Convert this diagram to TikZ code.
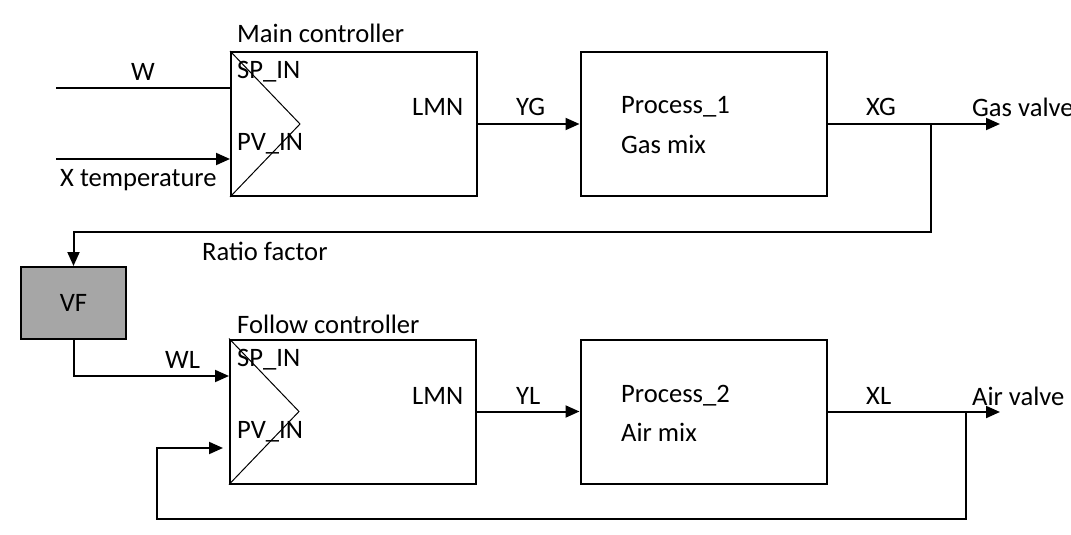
\documentclass[tikz,border=0pt]{standalone}
\usepackage{fontspec}
\setmainfont{Carlito}
\usetikzlibrary{arrows.meta}

\begin{document}
\begin{tikzpicture}[
      x=1pt, y=-1pt,
      block/.style={draw, line width=2pt, rectangle, minimum width=246pt, minimum height=144pt, inner sep=0pt}, % Cuadros de controlador y proceso
      factor/.style={draw, line width=2pt, rectangle, fill=gray!70, minimum width=105pt, minimum height=72pt, font=\fontsize{26.6}{30}\selectfont},
      label/.style={anchor=west, inner sep=0pt, font=\fontsize{26.6}{30}\selectfont},
      wire/.style={line width=2pt},
      arr/.style={line width=2pt, -{Triangle[length=14pt, width=12pt]}}
    ]
    \useasboundingbox (0,0) rectangle (1071,535);
    % Main loop
    \node [block] (mainctrl) at (354,124) {};
    \node [block] (proc1) at (703.5,124) {};
    \node [label] at (237,33) {Main controller};
    \node [label] at (237,72) {SP\_IN};
    \node [label] at (237,144) {PV\_IN};
    \node [label] at (412,107) {LMN};
    \node [label] at (621,107) {Process\_1};
    \node [label] at (621,144) {Gas mix};
    \draw [line width=1pt] (mainctrl.north west) -- ([xshift=70pt]mainctrl.west) -- (mainctrl.south west);
    % Inputs of main controller
    \coordinate (win) at (56,88);
    \coordinate (xin) at (56,159);
    \draw [wire] (win) -- (win -| mainctrl.west);
    \node [label] at (131,72) {W};
    \draw [arr] (xin) -- (xin -| mainctrl.west);
    \node [label] at (60,180) {X temperature};
    \draw [arr] (mainctrl.east) -- (proc1.west);
    \node [label] at (516,107) {YG};
    \coordinate (gasout) at (1000,124);
    \draw [arr] (proc1.east) -- (gasout);
    \node [label] at (866,107) {XG};
    \node [label] at (972,107) {Gas valve};
    % Ratio factor
    \node [factor] (vf) at (73.5,303) {VF};
    \coordinate (xgbranch) at (931,124);
    \draw [arr] (xgbranch) |- (vf.north |- 0,232) -- (vf.north);
    \node [label] at (202,251) {Ratio factor};
    % Follow loop
    \node [block] (follow) at (353,411.5) {};
    \node [block] (proc2) at (703.5,411.5) {};
    \node [label] at (237,324) {Follow controller};
    \node [label] at (237,360) {SP\_IN};
    \node [label] at (237,432) {PV\_IN};
    \node [label] at (412,396) {LMN};
    \node [label] at (621,396) {Process\_2};
    \node [label] at (621,432) {Air mix};
    \draw [line width=1pt] (follow.north west) -- ([xshift=70pt]follow.west) -- (follow.south west);
    \draw [arr] (vf.south) |- (follow.west |- 0,376);
    \node [label] at (165,360) {WL};
    \draw [arr] (follow.east) -- (proc2.west);
    \node [label] at (516,396) {YL};
    \coordinate (airout) at (1000,412);
    \draw [arr] (proc2.east |- airout) -- (airout);
    \node [label] at (866,396) {XL};
    \node [label] at (972,396) {Air valve};
    % Feedback of follow loop
    \coordinate (xlbranch) at (966,412);
    \coordinate (fbcorner) at (157,519);
    \coordinate (fbtip) at (223,448);
    \draw [arr] (xlbranch) |- (fbcorner) |- (fbtip);
\end{tikzpicture}
\end{document}
